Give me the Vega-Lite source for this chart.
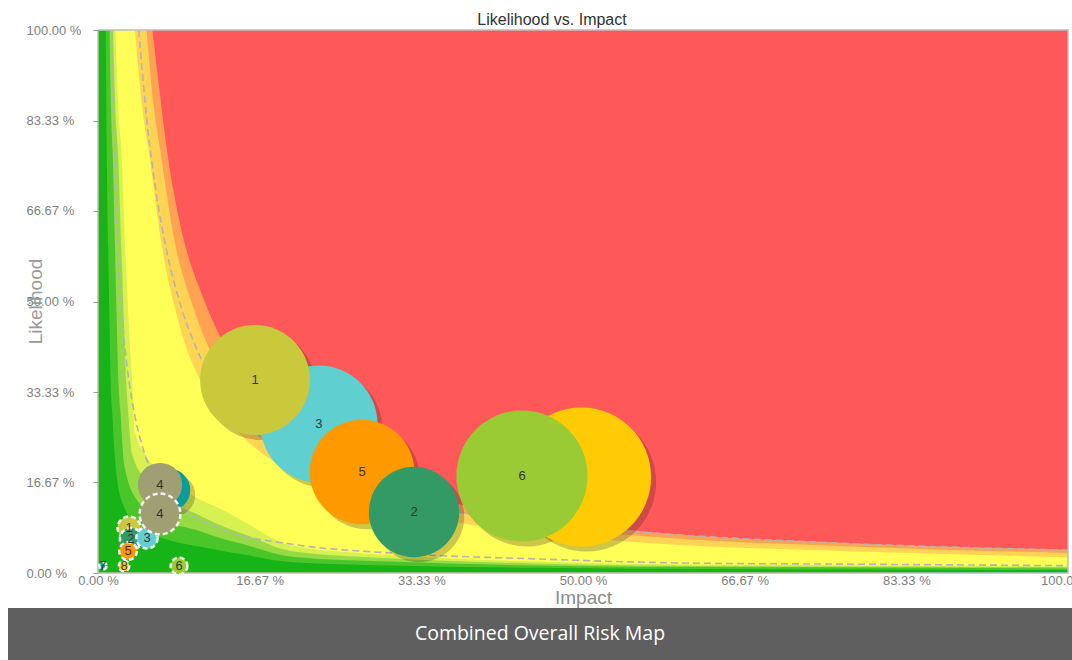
{
  "$schema": "https://vega.github.io/schema/vega-lite/v6.json",
  "usermeta": {"embedOptions": {"actions": false}},
  "background": "white",
  "padding": {"left": 8, "top": 12, "right": 0, "bottom": 0},
  "autosize": {"type": "pad"},
  "config": {"view": {"stroke": null}, "font": "Liberation Sans"},
  "datasets": {
    "bands": [
      {"band": "z0", "x": 0, "y": 0}, {"band": "z0", "x": 1, "y": 0},
      {"band": "z1", "x": 0.008, "y": 1}, {"band": "z1", "x": 0.009, "y": 0.78}, {"band": "z1", "x": 0.0105, "y": 0.6}, {"band": "z1", "x": 0.012, "y": 0.45}, {"band": "z1", "x": 0.013, "y": 0.355}, {"band": "z1", "x": 0.0145, "y": 0.3}, {"band": "z1", "x": 0.018, "y": 0.2}, {"band": "z1", "x": 0.025, "y": 0.13}, {"band": "z1", "x": 0.04, "y": 0.09}, {"band": "z1", "x": 0.07, "y": 0.062}, {"band": "z1", "x": 0.1, "y": 0.05}, {"band": "z1", "x": 0.13, "y": 0.04}, {"band": "z1", "x": 0.15, "y": 0.034}, {"band": "z1", "x": 0.2, "y": 0.02}, {"band": "z1", "x": 0.3, "y": 0.014}, {"band": "z1", "x": 0.45, "y": 0.0095}, {"band": "z1", "x": 0.56, "y": 0.008}, {"band": "z1", "x": 0.775, "y": 0.0065}, {"band": "z1", "x": 1.0, "y": 0.0055},
      {"band": "z2", "x": 0.012, "y": 1}, {"band": "z2", "x": 0.0135, "y": 0.85}, {"band": "z2", "x": 0.015, "y": 0.78}, {"band": "z2", "x": 0.0175, "y": 0.6}, {"band": "z2", "x": 0.0195, "y": 0.45}, {"band": "z2", "x": 0.021, "y": 0.355}, {"band": "z2", "x": 0.023, "y": 0.3}, {"band": "z2", "x": 0.027, "y": 0.2}, {"band": "z2", "x": 0.04, "y": 0.135}, {"band": "z2", "x": 0.07, "y": 0.095}, {"band": "z2", "x": 0.1, "y": 0.08}, {"band": "z2", "x": 0.13, "y": 0.062}, {"band": "z2", "x": 0.15, "y": 0.053}, {"band": "z2", "x": 0.2, "y": 0.03}, {"band": "z2", "x": 0.3, "y": 0.021}, {"band": "z2", "x": 0.45, "y": 0.014}, {"band": "z2", "x": 0.56, "y": 0.0115}, {"band": "z2", "x": 0.775, "y": 0.01}, {"band": "z2", "x": 1.0, "y": 0.0085},
      {"band": "z3", "x": 0.0155, "y": 1}, {"band": "z3", "x": 0.018, "y": 0.85}, {"band": "z3", "x": 0.0205, "y": 0.78}, {"band": "z3", "x": 0.024, "y": 0.6}, {"band": "z3", "x": 0.027, "y": 0.45}, {"band": "z3", "x": 0.029, "y": 0.355}, {"band": "z3", "x": 0.031, "y": 0.3}, {"band": "z3", "x": 0.035, "y": 0.22}, {"band": "z3", "x": 0.05, "y": 0.17}, {"band": "z3", "x": 0.07, "y": 0.135}, {"band": "z3", "x": 0.1, "y": 0.11}, {"band": "z3", "x": 0.13, "y": 0.085}, {"band": "z3", "x": 0.15, "y": 0.072}, {"band": "z3", "x": 0.2, "y": 0.04}, {"band": "z3", "x": 0.3, "y": 0.027}, {"band": "z3", "x": 0.45, "y": 0.0175}, {"band": "z3", "x": 0.56, "y": 0.014}, {"band": "z3", "x": 0.775, "y": 0.012}, {"band": "z3", "x": 1.0, "y": 0.0105},
      {"band": "z4", "x": 0.018, "y": 1}, {"band": "z4", "x": 0.021, "y": 0.85}, {"band": "z4", "x": 0.024, "y": 0.78}, {"band": "z4", "x": 0.028, "y": 0.6}, {"band": "z4", "x": 0.032, "y": 0.45}, {"band": "z4", "x": 0.035, "y": 0.355}, {"band": "z4", "x": 0.038, "y": 0.26}, {"band": "z4", "x": 0.05, "y": 0.215}, {"band": "z4", "x": 0.07, "y": 0.175}, {"band": "z4", "x": 0.1, "y": 0.14}, {"band": "z4", "x": 0.13, "y": 0.115}, {"band": "z4", "x": 0.15, "y": 0.095}, {"band": "z4", "x": 0.2, "y": 0.05}, {"band": "z4", "x": 0.3, "y": 0.033}, {"band": "z4", "x": 0.45, "y": 0.021}, {"band": "z4", "x": 0.56, "y": 0.0165}, {"band": "z4", "x": 0.775, "y": 0.0145}, {"band": "z4", "x": 1.0, "y": 0.0125},
      {"band": "z5", "x": 0.038, "y": 1}, {"band": "z5", "x": 0.046, "y": 0.85}, {"band": "z5", "x": 0.052, "y": 0.78}, {"band": "z5", "x": 0.066, "y": 0.6}, {"band": "z5", "x": 0.085, "y": 0.45}, {"band": "z5", "x": 0.11, "y": 0.34}, {"band": "z5", "x": 0.15, "y": 0.25}, {"band": "z5", "x": 0.2, "y": 0.185}, {"band": "z5", "x": 0.3, "y": 0.12}, {"band": "z5", "x": 0.45, "y": 0.074}, {"band": "z5", "x": 0.56, "y": 0.056}, {"band": "z5", "x": 0.775, "y": 0.04}, {"band": "z5", "x": 1.0, "y": 0.029},
      {"band": "z6", "x": 0.05, "y": 1}, {"band": "z6", "x": 0.058, "y": 0.85}, {"band": "z6", "x": 0.064, "y": 0.78}, {"band": "z6", "x": 0.078, "y": 0.62}, {"band": "z6", "x": 0.1, "y": 0.48}, {"band": "z6", "x": 0.13, "y": 0.36}, {"band": "z6", "x": 0.17, "y": 0.27}, {"band": "z6", "x": 0.2, "y": 0.225}, {"band": "z6", "x": 0.3, "y": 0.145}, {"band": "z6", "x": 0.45, "y": 0.088}, {"band": "z6", "x": 0.56, "y": 0.068}, {"band": "z6", "x": 0.775, "y": 0.049}, {"band": "z6", "x": 1.0, "y": 0.037},
      {"band": "z7", "x": 0.056, "y": 1}, {"band": "z7", "x": 0.064, "y": 0.88}, {"band": "z7", "x": 0.071, "y": 0.78}, {"band": "z7", "x": 0.085, "y": 0.64}, {"band": "z7", "x": 0.11, "y": 0.5}, {"band": "z7", "x": 0.14, "y": 0.39}, {"band": "z7", "x": 0.2, "y": 0.27}, {"band": "z7", "x": 0.3, "y": 0.167}, {"band": "z7", "x": 0.45, "y": 0.102}, {"band": "z7", "x": 0.56, "y": 0.077}, {"band": "z7", "x": 0.775, "y": 0.055}, {"band": "z7", "x": 1.0, "y": 0.043}
    ],
    "dash": [
      {"line": "upper", "x": 0.042, "y": 1}, {"line": "upper", "x": 0.05, "y": 0.84}, {"line": "upper", "x": 0.06, "y": 0.7}, {"line": "upper", "x": 0.07, "y": 0.6}, {"line": "upper", "x": 0.085, "y": 0.494}, {"line": "upper", "x": 0.1, "y": 0.42}, {"line": "upper", "x": 0.13, "y": 0.323}, {"line": "upper", "x": 0.17, "y": 0.247}, {"line": "upper", "x": 0.22, "y": 0.191}, {"line": "upper", "x": 0.3, "y": 0.14}, {"line": "upper", "x": 0.4, "y": 0.105}, {"line": "upper", "x": 0.5, "y": 0.084}, {"line": "upper", "x": 0.6, "y": 0.07}, {"line": "upper", "x": 0.75, "y": 0.056}, {"line": "upper", "x": 1.0, "y": 0.042},
      {"line": "lower", "x": 0.014, "y": 1}, {"line": "lower", "x": 0.0165, "y": 0.78}, {"line": "lower", "x": 0.02, "y": 0.6}, {"line": "lower", "x": 0.025, "y": 0.47}, {"line": "lower", "x": 0.03, "y": 0.38}, {"line": "lower", "x": 0.038, "y": 0.29}, {"line": "lower", "x": 0.048, "y": 0.22}, {"line": "lower", "x": 0.065, "y": 0.16}, {"line": "lower", "x": 0.09, "y": 0.115}, {"line": "lower", "x": 0.13, "y": 0.079}, {"line": "lower", "x": 0.2, "y": 0.053}, {"line": "lower", "x": 0.3, "y": 0.037}, {"line": "lower", "x": 0.45, "y": 0.026}, {"line": "lower", "x": 0.6, "y": 0.0185}, {"line": "lower", "x": 0.8, "y": 0.016}, {"line": "lower", "x": 1.0, "y": 0.0135}
    ],
    "frame": [
      {"x": 0, "y": 0, "x2": 1, "y2": 1}
    ],
    "bubbles": [
      {"set": "cur", "risk": "8", "label": "", "x": 0.4985, "y": 0.1768, "size": 6160},
      {"set": "cur", "risk": "6", "label": "6", "x": 0.4371, "y": 0.1786, "size": 5476},
      {"set": "cur", "risk": "3", "label": "3", "x": 0.2278, "y": 0.2744, "size": 4356},
      {"set": "cur", "risk": "1", "label": "1", "x": 0.1619, "y": 0.3554, "size": 3844},
      {"set": "cur", "risk": "5", "label": "5", "x": 0.2722, "y": 0.186, "size": 3481},
      {"set": "cur", "risk": "2", "label": "2", "x": 0.3258, "y": 0.1123, "size": 2601},
      {"set": "cur", "risk": "7", "label": "", "x": 0.0732, "y": 0.1529, "size": 576},
      {"set": "cur", "risk": "4", "label": "4", "x": 0.0639, "y": 0.162, "size": 625},
      {"set": "prev", "risk": "1", "label": "1", "x": 0.032, "y": 0.0829, "size": 169},
      {"set": "prev", "risk": "2", "label": "2", "x": 0.034, "y": 0.0626, "size": 156},
      {"set": "prev", "risk": "3", "label": "3", "x": 0.0505, "y": 0.0645, "size": 144},
      {"set": "prev", "risk": "4", "label": "4", "x": 0.0639, "y": 0.1087, "size": 529},
      {"set": "prev", "risk": "5", "label": "5", "x": 0.031, "y": 0.0405, "size": 100},
      {"set": "prev", "risk": "6", "label": "6", "x": 0.0835, "y": 0.0129, "size": 90},
      {"set": "prev", "risk": "7", "label": "7", "x": 0.005, "y": 0.0129, "size": 16},
      {"set": "prev", "risk": "8", "label": "8", "x": 0.0268, "y": 0.0129, "size": 36}
    ]
  },
  "vconcat": [
    {
      "width": 1064,
      "height": 543,
      "title": {"text": "Likelihood vs. Impact", "fontSize": 16, "fontWeight": "normal", "color": "#333333", "font": "Liberation Sans", "anchor": "middle", "frame": "group", "dx": 12, "offset": -4},
      "encoding": {
        "x": {"field": "x", "type": "quantitative", "scale": {"domain": [-0.092784, 1.004124], "nice": false, "zero": false},
          "axis": {"zindex": 2, "values": [0, 0.1666667, 0.3333333, 0.5, 0.6666667, 0.8333333, 1], "labelExpr": "format(datum.value*100,'.2f') + ' %'", "domain": false, "ticks": false, "grid": false, "labelPadding": 1, "labelFontSize": 13, "labelColor": "#808080", "labelFont": "Liberation Sans", "labelFlush": false, "labelOverlap": false, "title": "Impact", "titleFontSize": 19, "titleColor": "#8C8C8C", "titleFontWeight": "normal", "titleFont": "Liberation Sans", "titleX": 575, "titleY": 30, "titleBaseline": "alphabetic", "titleAlign": "center"}},
        "y": {"field": "y", "type": "quantitative", "stack": null, "scale": {"domain": [0, 1], "nice": false, "zero": false},
          "axis": {"zindex": 2, "offset": -90, "values": [0, 0.1666667, 0.3333333, 0.5, 0.6666667, 0.8333333, 1], "labelExpr": "format(datum.value*100,'.2f') + ' %'", "domain": false, "ticks": true, "tickSize": 5, "tickColor": "#999999", "grid": false, "labelAlign": "left", "labelBaseline": "middle", "labelPadding": 67, "labelFontSize": 13, "labelColor": "#808080", "labelFont": "Liberation Sans", "labelFlush": false, "labelOverlap": false, "title": "Likelihood", "titleFontSize": 19, "titleColor": "#9A9A9A", "titleFontWeight": "normal", "titleFont": "Liberation Sans", "titleAngle": -90, "titleX": -63, "titleY": 271, "titleBaseline": "middle", "titleAlign": "center"}}
      },
      "layer": [
        {
          "data": {"name": "bands"},
          "mark": {"type": "area", "orient": "vertical", "interpolate": "monotone"},
          "encoding": {
            "y2": {"datum": 1},
            "color": {"field": "band", "type": "nominal", "legend": null,
              "scale": {"domain": ["z0", "z1", "z2", "z3", "z4", "z5", "z6", "z7"], "range": ["#16B416", "#4AC62A", "#96DA46", "#D6F151", "#FFFF57", "#FFD455", "#FFA352", "#FF5858"]}}
          }
        },
        {
          "data": {"name": "dash"},
          "mark": {"type": "line", "interpolate": "monotone", "strokeDash": [7, 4], "strokeWidth": 1.6, "color": "#B4B4B4"},
          "encoding": {
            "detail": {"field": "line"}
          }
        },
        {
          "data": {"name": "frame"},
          "mark": {"type": "rect", "fillOpacity": 0, "stroke": "#BDBDBD", "strokeWidth": 1.5},
          "encoding": {
            "x2": {"field": "x2"},
            "y2": {"field": "y2"}
          }
        },
        {
          "data": {"name": "bubbles"},
          "transform": [{"filter": "datum.set === 'cur'"}],
          "mark": {"type": "circle", "color": "#3A1A1A", "opacity": 0.25, "xOffset": 5, "yOffset": 5},
          "encoding": {
            "size": {"field": "size", "type": "quantitative", "legend": null, "scale": {"type": "linear", "domain": [0, 10000], "range": [0, 31416], "zero": true}}
          }
        },
        {
          "data": {"name": "bubbles"},
          "transform": [{"filter": "datum.set === 'cur'"}],
          "mark": {"type": "circle", "opacity": 1},
          "encoding": {
            "size": {"field": "size", "type": "quantitative", "legend": null, "scale": {"type": "linear", "domain": [0, 10000], "range": [0, 31416], "zero": true}},
            "fill": {"field": "risk", "type": "nominal", "legend": null, "scale": {"domain": ["1", "2", "3", "4", "5", "6", "7", "8"], "range": ["#C9C93B", "#339A66", "#5FCFCF", "#A09E73", "#FF9900", "#9ACB34", "#0A9C9C", "#FFCB05"]}}
          }
        },
        {
          "data": {"name": "bubbles"},
          "transform": [{"filter": "datum.set === 'cur'"}],
          "mark": {"type": "text", "fontSize": 13, "color": "#333333", "align": "center", "baseline": "middle", "font": "Liberation Sans"},
          "encoding": {
            "text": {"field": "label"}
          }
        },
        {
          "data": {"name": "bubbles"},
          "transform": [{"filter": "datum.set === 'prev'"}],
          "mark": {"type": "circle", "opacity": 1, "stroke": "#F2F2F2", "strokeWidth": 2.5, "strokeDash": [5, 3]},
          "encoding": {
            "size": {"field": "size", "type": "quantitative", "legend": null, "scale": {"type": "linear", "domain": [0, 10000], "range": [0, 31416], "zero": true}},
            "fill": {"field": "risk", "type": "nominal", "legend": null, "scale": {"domain": ["1", "2", "3", "4", "5", "6", "7", "8"], "range": ["#C9C93B", "#339A66", "#5FCFCF", "#A09E73", "#FF9900", "#9ACB34", "#0A9C9C", "#FFCB05"]}}
          }
        },
        {
          "data": {"name": "bubbles"},
          "transform": [{"filter": "datum.set === 'prev'"}],
          "mark": {"type": "text", "fontSize": 13, "color": "#333333", "align": "center", "baseline": "middle", "font": "Liberation Sans"},
          "encoding": {
            "text": {"field": "label"}
          }
        }
      ]
    },
    {
      "width": 1064,
      "height": 52,
      "view": {"fill": "#5F5F5F", "stroke": null},
      "data": {"values": [{"t": "Combined Overall Risk Map"}]},
      "mark": {"type": "text", "color": "white", "fontSize": 19.5, "font": "Open Sans", "baseline": "middle", "align": "center"},
      "encoding": {"text": {"field": "t", "type": "nominal"}}
    }
  ],
  "spacing": 35,
  "bounds": "flush"
}
